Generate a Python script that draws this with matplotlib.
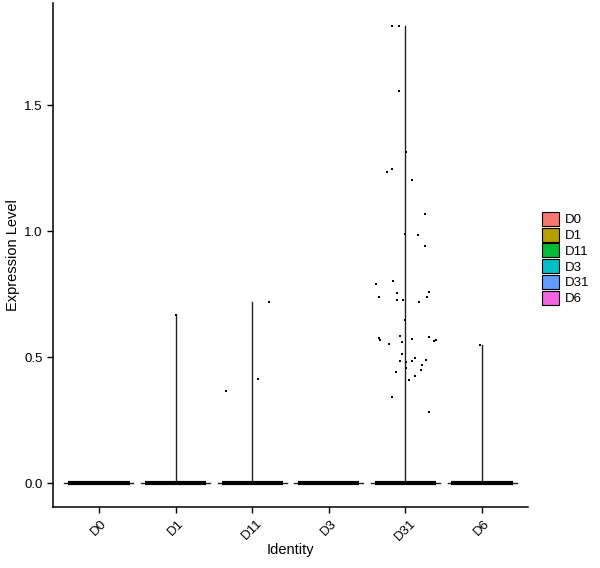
import numpy as np
import matplotlib.pyplot as plt

plt.rcParams['font.family'] = ['Liberation Sans', 'DejaVu Sans']

# groups and their legend colours (ggplot hue palette)
groups = ['D0', 'D1', 'D11', 'D3', 'D31', 'D6']
colors = ['#F8766D', '#B79F00', '#00BA38', '#00BFC4', '#619CFF', '#F564E3']

# non-zero cells per group: horizontal jitter offset and expression value
# (every other cell sits at 0.0)
pts = {
    'D0': ([], []),
    'D1': ([0.0], [0.667]),
    'D11': ([-0.34, 0.08, 0.22], [0.367, 0.413, 0.720]),
    'D3': ([], []),
    'D31': (
        [-0.18, -0.09, -0.09, 0.01, -0.17, -0.24, 0.09,
         0.26, 0.0, 0.16, 0.25, -0.38, -0.16, -0.11, 0.31,
         -0.34, -0.11, -0.03, 0.28, 0.18, -0.01,
         -0.34, -0.33, -0.07, -0.05, -0.22, 0.09, 0.31, 0.37, 0.40,
         -0.04, -0.07, 0.01, 0.08, 0.13, 0.27, 0.22, 0.01, 0.20,
         -0.12, 0.13, 0.05, -0.17, 0.31],
        [1.815, 1.815, 1.556, 1.313, 1.247, 1.234, 1.202,
         1.067, 0.989, 0.984, 0.942, 0.790, 0.802, 0.755, 0.759,
         0.738, 0.727, 0.726, 0.739, 0.720, 0.648,
         0.577, 0.569, 0.583, 0.560, 0.552, 0.573, 0.581, 0.565, 0.569,
         0.513, 0.485, 0.481, 0.485, 0.497, 0.488, 0.469, 0.458, 0.450,
         0.440, 0.426, 0.410, 0.342, 0.283]),
    'D6': ([-0.02], [0.548]),
}

fig = plt.figure(figsize=(6, 5.68), dpi=100)
ax = fig.add_axes([0.0883, 0.1074, 0.7917, 0.8873])

for i, g in enumerate(groups):
    xpos = i + 1
    dx, vals = pts[g]
    # violin: flat at zero, thin tail up to the max value
    ax.plot([xpos - 0.45, xpos + 0.45], [0, 0], color='#222222', lw=1, zorder=1)
    if len(vals):
        ax.plot([xpos, xpos], [0, max(vals)], color='#222222', lw=1, zorder=1)
    # the mass of zero-valued cells, jittered into a solid band
    ax.plot([xpos - 0.4, xpos + 0.4], [0, 0], color='black', lw=3,
            solid_capstyle='butt', zorder=2)
    ax.scatter(xpos + np.array(dx), vals, s=4.5, marker='s', color='black',
               linewidths=0, zorder=3)

ax.set_xlim(0.4, 6.6)
ax.set_ylim(-0.095, 1.905)
ax.set_xticks(range(1, len(groups) + 1))
ax.set_xticklabels(groups, rotation=45, ha='center', va='top')
ax.set_yticks([0.0, 0.5, 1.0, 1.5])
ax.set_yticklabels(['0.0', '0.5', '1.0', '1.5'])
ax.tick_params(axis='both', labelsize=9.5, length=4, width=1, colors='black')
for side in ['top', 'right']:
    ax.spines[side].set_visible(False)
for side in ['left', 'bottom']:
    ax.spines[side].set_linewidth(1.1)
ax.set_xlabel('Identity', fontsize=10.5, labelpad=0)
ax.set_ylabel('Expression Level', fontsize=10.5, labelpad=3)

# legend
handles = [plt.Rectangle((0, 0), 1, 1, facecolor=c, edgecolor='black', lw=0.8)
           for c in colors]
fig.legend(handles, groups, loc='center left', bbox_to_anchor=(0.895, 0.545),
           frameon=False, fontsize=9.5, handlelength=1.25, handleheight=1.25,
           handletextpad=0.5, labelspacing=0.1, borderaxespad=0)

fig.savefig('out.png', dpi=100)
